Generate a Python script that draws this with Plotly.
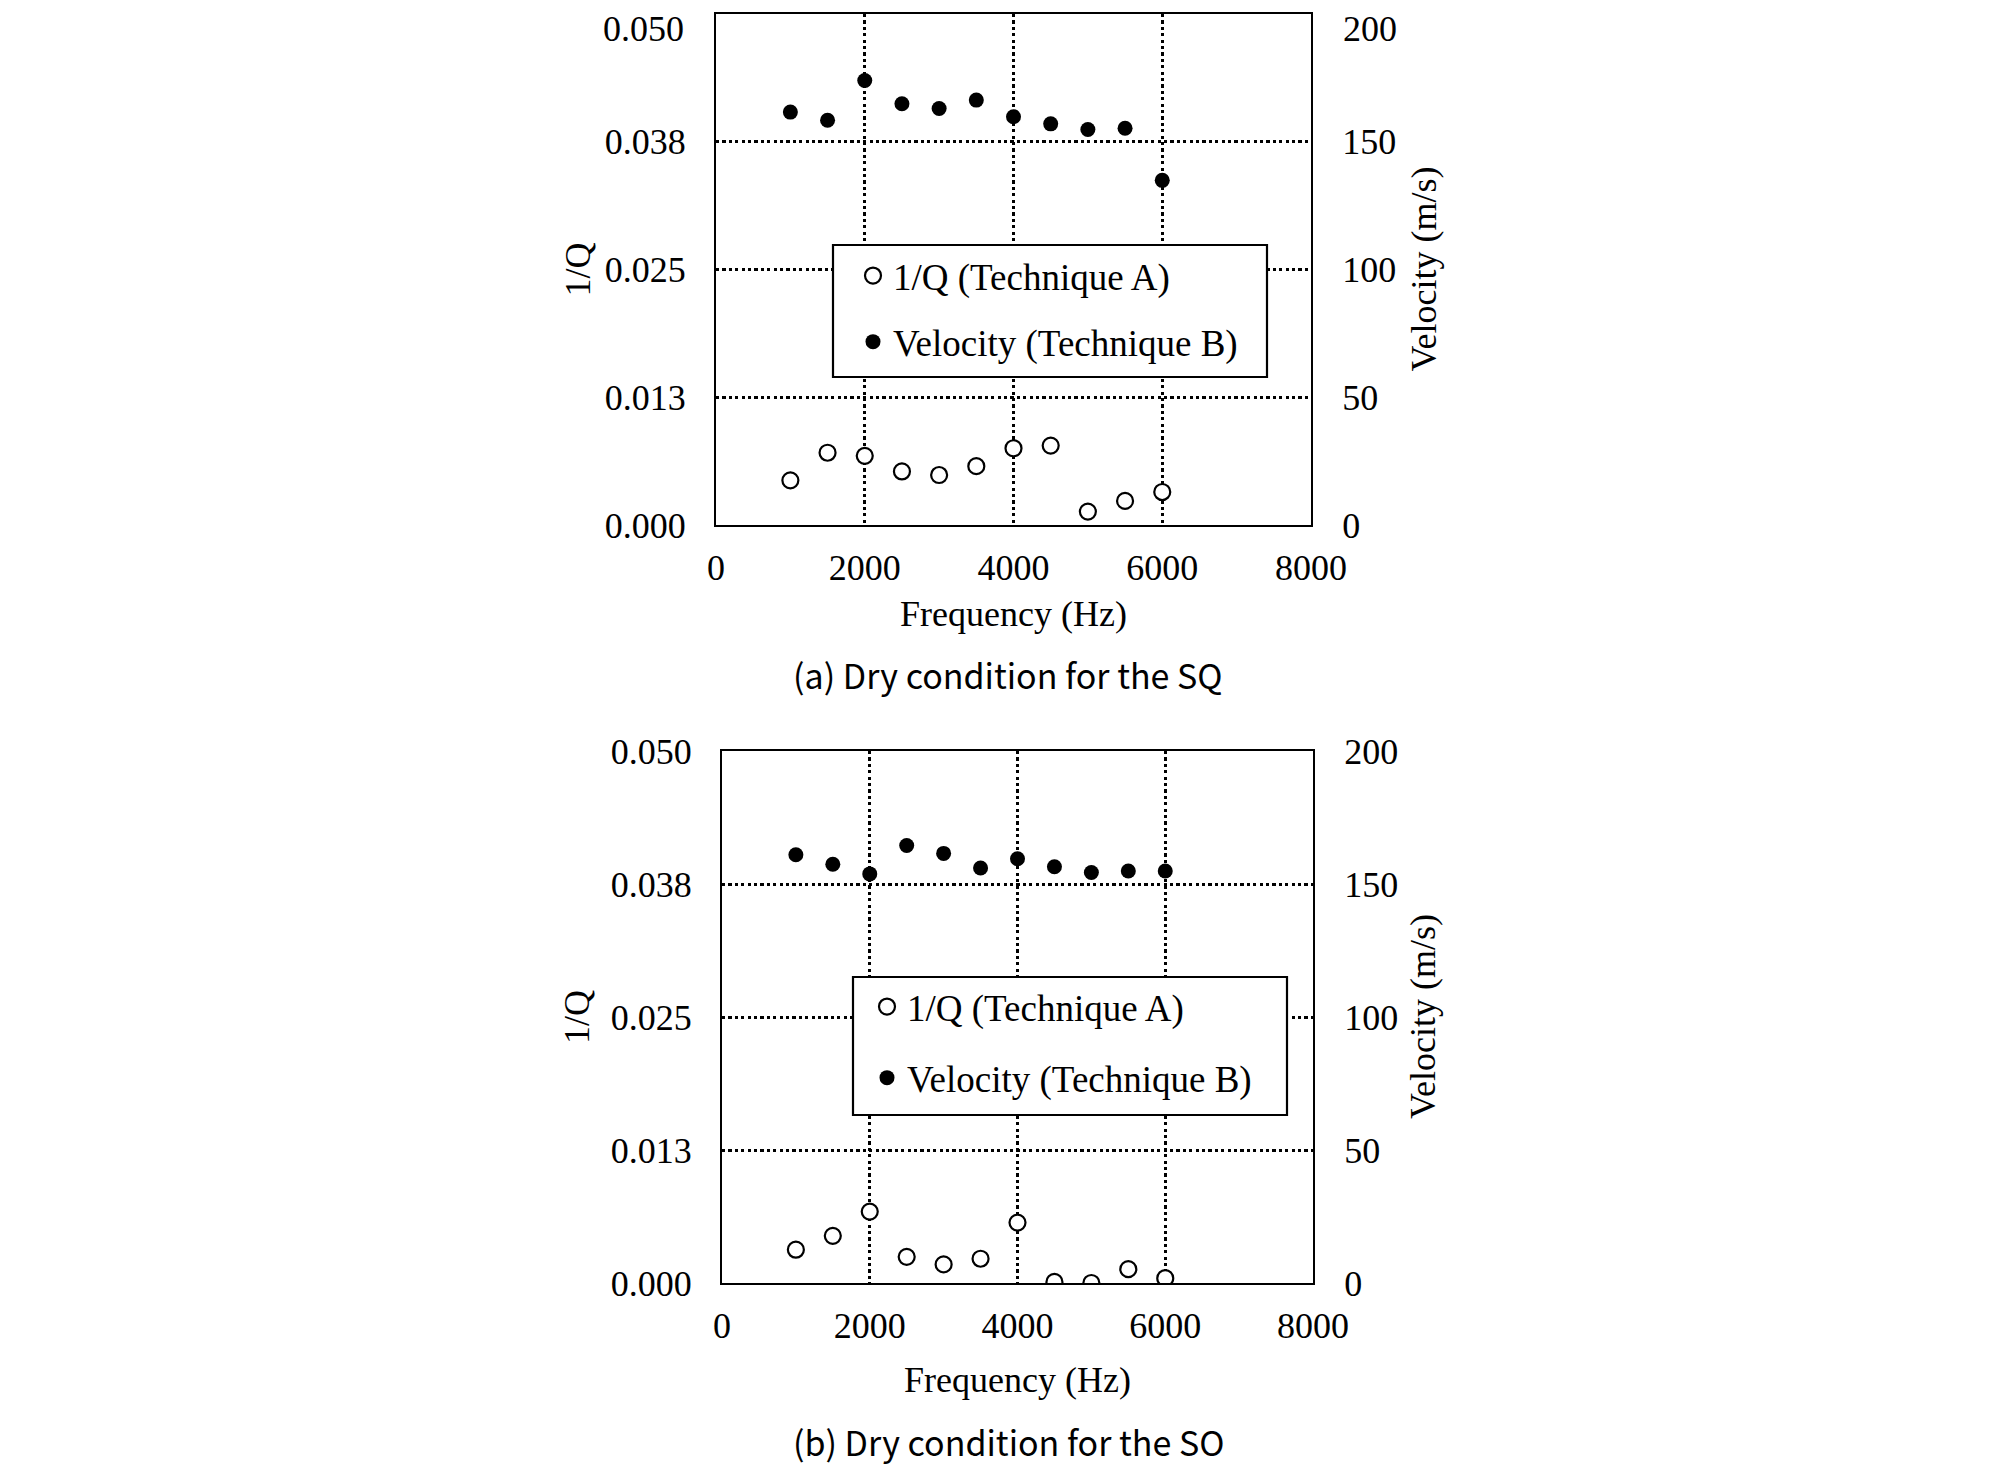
import plotly.graph_objects as go

freq = [1000, 1500, 2000, 2500, 3000, 3500, 4000, 4500, 5000, 5500, 6000]

# (a) Dry condition for the SQ
invq_a = [0.00437, 0.00707, 0.00677, 0.00524, 0.00489, 0.00576, 0.00751, 0.00777, 0.00131, 0.00236, 0.00323]
vel_a = [161.6, 158.4, 174.0, 164.9, 163.0, 166.3, 159.8, 157.0, 154.8, 155.3, 134.9]

# (b) Dry condition for the SO
invq_b = [0.00313, 0.00443, 0.00671, 0.00246, 0.00175, 0.00228, 0.00568, 0.0001, 0.0000, 0.0013, 0.00045]
vel_b = [161.0, 157.4, 153.8, 164.5, 161.5, 156.0, 159.5, 156.5, 154.3, 154.9, 154.9]

x_ticks = [0, 2000, 4000, 6000, 8000]
q_ticks = [0, 0.0125, 0.025, 0.0375, 0.05]
q_labels = ["0.000", "0.013", "0.025", "0.038", "0.050"]
v_ticks = [0, 50, 100, 150, 200]
v_labels = ["0", "50", "100", "150", "200"]

captions = ["(a) Dry condition for the SQ", "(b) Dry condition for the SO"]

W, H = 2008, 1467
OFF = 8  # page body margin
SERIF = "Liberation Serif"
TICKF = dict(family=SERIF, size=36, color="black")

fig = go.Figure()

def px_x(p):
    return (p - OFF) / W

def px_y(p):
    return 1 - (p - OFF) / H

panels = [
    dict(xd=[716, 1311], yd=[14, 525], q=invq_a, v=vel_a,
         box=(833, 245, 1267, 377), leg=(853, 245), gap=15, cap=674, xt=614, lq=577, rv=1423),
    dict(xd=[722, 1313], yd=[751, 1283], q=invq_b, v=vel_b,
         box=(853, 977, 1287, 1115), leg=(867, 976), gap=20, cap=1441, xt=1380, lq=577, rv=1423),
]

annotations = []
shapes = []
for i, p in enumerate(panels):
    xa = "x" if i == 0 else "x2"
    ya_l = "y" if i == 0 else "y3"
    ya_r = "y2" if i == 0 else "y4"
    legname = "legend" if i == 0 else "legend2"
    fig.add_trace(go.Scatter(
        x=freq, y=p["q"], mode="markers", name="1/Q (Technique A)",
        xaxis=xa, yaxis=ya_l, legend=legname, legendgroup=f"a{i}",
        marker=dict(symbol="circle", size=16, color="white", line=dict(width=2.2, color="black")),
    ))
    fig.add_trace(go.Scatter(
        x=freq, y=p["v"], mode="markers", name="Velocity (Technique B)",
        xaxis=xa, yaxis=ya_r, legend=legname, legendgroup=f"b{i}",
        marker=dict(symbol="circle", size=15, color="black"),
    ))

    # top panel: the top tick labels would be clipped at the page edge, so draw them as annotations
    ql = list(q_labels)
    vl = list(v_labels)
    if i == 0:
        ql[-1] = ""
        vl[-1] = ""
        annotations.append(dict(text=q_labels[-1], x=px_x(p["xd"][0] - 31), y=1, xref="paper", yref="paper",
                                showarrow=False, font=TICKF, xanchor="right", yanchor="top", borderpad=0))
        annotations.append(dict(text=v_labels[-1], x=px_x(p["xd"][1] + 31), y=1, xref="paper", yref="paper",
                                showarrow=False, font=TICKF, xanchor="left", yanchor="top", borderpad=0))

    dom_x = [px_x(p["xd"][0]), px_x(p["xd"][1])]
    dom_y = [px_y(p["yd"][1]), px_y(p["yd"][0])]
    xkey = "xaxis" if i == 0 else "xaxis2"
    ylkey = "yaxis" if i == 0 else "yaxis3"
    yrkey = "yaxis2" if i == 0 else "yaxis4"
    grid = dict(showgrid=True, gridcolor="black", gridwidth=3.2, griddash="dot")
    common = dict(showline=True, linecolor="black", linewidth=2, automargin=False,
                  ticks="", tickfont=TICKF, zeroline=False, ticklabeloverflow="allow")
    fig.update_layout(**{
        xkey: dict(domain=dom_x, range=[0, 8000], tickvals=x_ticks, anchor=ya_l,
                   mirror=True, ticklabelstandoff=10, **common, **grid),
        ylkey: dict(domain=dom_y, range=[0, 0.05], tickvals=q_ticks, ticktext=ql, anchor=xa,
                    mirror=False, ticklabelstandoff=21, **common, **grid),
        yrkey: dict(domain=dom_y, range=[0, 200], tickvals=v_ticks, ticktext=vl, anchor=xa, overlaying=ya_l,
                    side="right", showgrid=False, ticklabelstandoff=22, **common),
    })
    bx0, by0, bx1, by1 = p["box"]
    shapes.append(dict(type="rect", xref="paper", yref="paper",
                       x0=px_x(bx0), x1=px_x(bx1), y0=px_y(by1), y1=px_y(by0),
                       line=dict(color="black", width=2.2), fillcolor="white", layer="above"))
    fig.update_layout(**{legname: dict(
        x=px_x(p["leg"][0]), y=px_y(p["leg"][1]), xanchor="left", yanchor="top",
        bgcolor="rgba(0,0,0,0)", borderwidth=0,
        font=dict(family=SERIF, size=37, color="black"),
        traceorder="grouped", tracegroupgap=p["gap"], itemwidth=30,
    )})
    cx = (p["xd"][0] + p["xd"][1]) / 2
    annotations.append(dict(text="Frequency (Hz)", x=px_x(cx), y=px_y(p["xt"]), xref="paper", yref="paper",
                            showarrow=False, font=dict(family=SERIF, size=36, color="black"),
                            xanchor="center", yanchor="middle"))
    cy = (p["yd"][0] + p["yd"][1]) / 2
    annotations.append(dict(text="1/Q", x=px_x(p["lq"]), y=px_y(cy), xref="paper", yref="paper",
                            showarrow=False, textangle=-90, font=dict(family=SERIF, size=36, color="black"),
                            xanchor="center", yanchor="middle"))
    annotations.append(dict(text="Velocity (m/s)", x=px_x(p["rv"]), y=px_y(cy), xref="paper", yref="paper",
                            showarrow=False, textangle=-90, font=dict(family=SERIF, size=36, color="black"),
                            xanchor="center", yanchor="middle"))
    annotations.append(dict(text=captions[i], x=px_x(1008), y=px_y(p["cap"]), xref="paper", yref="paper",
                            showarrow=False, font=dict(family="Noto Sans CJK KR", size=34, color="black"),
                            xanchor="center", yanchor="middle"))

fig.update_layout(
    width=W, height=H, margin=dict(l=0, r=0, t=0, b=0, autoexpand=False),
    paper_bgcolor="white", plot_bgcolor="white",
    annotations=annotations, shapes=shapes,
)

fig.write_html("out.html")
